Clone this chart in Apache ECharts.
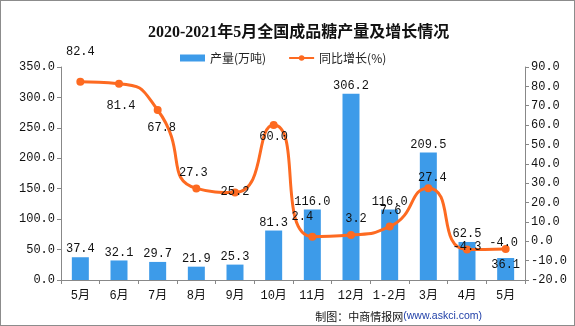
<!DOCTYPE html>
<html>
<head>
<meta charset="utf-8">
<script src="https://cdn.jsdelivr.net/npm/echarts@6/dist/echarts.min.js"></script>
<style>
  html, body { margin: 0; padding: 0; background: #fff; }
  #chart { width: 575px; height: 326px; box-sizing: border-box; border: 1px solid #8c8c8c; }
</style>
</head>
<body>
<div id="chart"></div>
<script>
// Monthly output of refined sugar, May 2020 – May 2021
const categories = ['5月', '6月', '7月', '8月', '9月', '10月', '11月', '12月', '1-2月', '3月', '4月', '5月'];
const output = [37.4, 32.1, 29.7, 21.9, 25.3, 81.3, 116.0, 306.2, 116.0, 209.5, 62.5, 36.1];
const growth = [82.4, 81.4, 67.8, 27.3, 25.2, 60.0, 2.4, 3.2, 7.6, 27.4, -4.3, -4.0];
const seriesNames = ['产量(万吨)', '同比增长(%)'];

// where each growth label sits relative to its point
const growthLabelPos = [
  { position: 'top', offset: [0, -14] },
  { position: 'bottom', offset: [2, 6] },
  { position: 'bottom', offset: [4, 2] },
  { position: 'top', offset: [-3, 0] },
  { position: 'inside', offset: [0, -1] },
  { position: 'inside', offset: [0, 12] },
  { position: 'top', offset: [-10, -4] },
  { position: 'top', offset: [5, 0] },
  { position: 'top', offset: [1, 0] },
  { position: 'top', offset: [4, 6] },
  { position: 'inside', offset: [0, -3] },
  { position: 'inside', offset: [-2, -6] }
];

const numFont = '"Liberation Mono", "DejaVu Sans Mono", monospace';
const cjkFont = '"Noto Sans CJK SC", sans-serif';

const chart = echarts.init(document.getElementById('chart'));
chart.setOption({
  animation: false,
  title: {
    text: '2020-2021年5月全国成品糖产量及增长情况',
    left: 142,
    top: 19,
    textStyle: { fontFamily: '"Liberation Serif", "Noto Sans CJK SC", serif', fontSize: 16, fontWeight: 'bold', color: '#111' }
  },
  legend: {
    top: 46,
    left: 174,
    itemGap: 22,
    itemWidth: 25,
    itemHeight: 7,
    textStyle: { fontFamily: cjkFont, fontSize: 12, color: '#222' },
    data: [
      { name: seriesNames[0], icon: 'rect' },
      { name: seriesNames[1] }
    ]
  },
  grid: { left: 60, right: 49, top: 66, bottom: 45 },
  xAxis: {
    type: 'category',
    data: categories,
    axisLine: { lineStyle: { color: '#888' } },
    axisTick: { show: true, length: 4, alignWithLabel: false, lineStyle: { color: '#888' } },
    axisLabel: { interval: 0, fontFamily: numFont + ',' + cjkFont, fontSize: 12, color: '#111', margin: 10 }
  },
  yAxis: [
    {
      type: 'value', min: 0, max: 350, interval: 50,
      splitLine: { show: false },
      axisLine: { show: true, lineStyle: { color: '#888' } },
      axisTick: { show: true, length: 4, lineStyle: { color: '#888' } },
      axisLabel: { fontFamily: numFont, fontSize: 12, color: '#111', margin: 6, formatter: v => v.toFixed(1) }
    },
    {
      type: 'value', min: -20, max: 90, interval: 10,
      splitLine: { show: false },
      axisLine: { show: true, lineStyle: { color: '#888' } },
      axisTick: { show: true, length: 4, lineStyle: { color: '#888' } },
      axisLabel: { fontFamily: numFont, fontSize: 12, color: '#111', margin: 6, formatter: v => v.toFixed(1) }
    }
  ],
  series: [
    {
      name: seriesNames[0],
      type: 'bar',
      yAxisIndex: 0,
      barWidth: 17,
      itemStyle: { color: '#3d9be9' },
      data: output.map((v, i) => ({
        value: v,
        label: i === output.length - 1 ? { position: 'insideTop', offset: [0, -1] } : {}
      })),
      label: {
        show: true, position: 'top', distance: 2,
        fontFamily: numFont, fontSize: 12, color: '#111',
        formatter: p => p.value.toFixed(1)
      },
      z: 2
    },
    {
      name: seriesNames[1],
      type: 'line',
      yAxisIndex: 1,
      smooth: 0.6,
      symbol: 'circle',
      symbolSize: 8,
      lineStyle: { color: '#fd6a21', width: 3 },
      itemStyle: { color: '#fd6a21' },
      data: growth.map((v, i) => ({ value: v, label: growthLabelPos[i] })),
      label: {
        show: true, distance: 6,
        fontFamily: numFont, fontSize: 12, color: '#111',
        formatter: p => p.value.toFixed(1)
      },
      z: 3
    }
  ],
  graphic: [
    {
      type: 'text', right: 92, bottom: 3,
      style: {
        text: '{a|制图：中商情报网}{b|(www.askci.com)}',
        rich: {
          a: { fontFamily: cjkFont, fontSize: 11, fill: '#111' },
          b: { fontFamily: '"Liberation Sans", sans-serif', fontSize: 10.5, fill: '#1f3fa8' }
        }
      }
    }
  ]
});
</script>
</body>
</html>
